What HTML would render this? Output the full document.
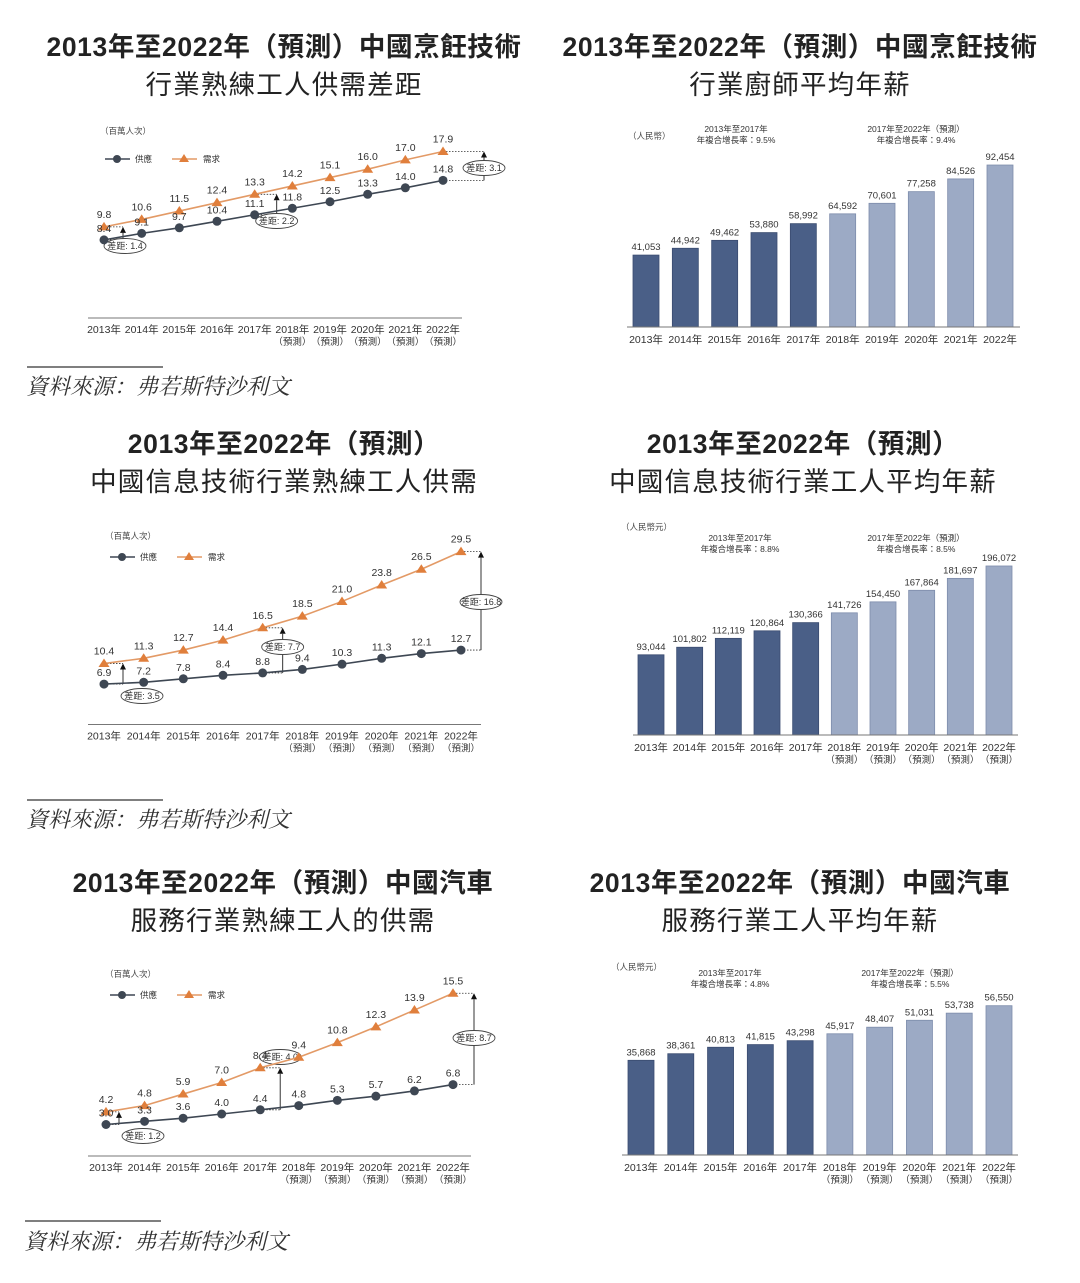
<!DOCTYPE html>
<html><head><meta charset="utf-8"><style>
html,body{margin:0;padding:0;background:#fff;}
svg{display:block;font-family:"Liberation Sans","Noto Sans CJK TC",sans-serif;}
.title{font-size:26.5px;font-weight:bold;fill:#222;text-anchor:middle;letter-spacing:0.6px;}
.title2{font-size:26.5px;fill:#222;text-anchor:middle;letter-spacing:1.2px;}
.src{font-family:"Liberation Serif","Noto Serif CJK SC",serif;font-style:italic;font-size:22px;fill:#333;}
</style></head><body>
<svg id="page" width="1080" height="1283" viewBox="0 0 1080 1283">
<g>
<text class="title" x="284" y="56">2013年至2022年（預測）中國烹飪技術</text>
<text class="title2" x="284" y="94">行業熟練工人供需差距</text>
<text class="title" x="800" y="56">2013年至2022年（預測）中國烹飪技術</text>
<text class="title2" x="800" y="94">行業廚師平均年薪</text>
<text class="title" x="284" y="453">2013年至2022年（預測）</text>
<text class="title2" x="284" y="491">中國信息技術行業熟練工人供需</text>
<text class="title" x="803" y="453">2013年至2022年（預測）</text>
<text class="title2" x="803" y="491">中國信息技術行業工人平均年薪</text>
<text class="title" x="283" y="892">2013年至2022年（預測）中國汽車</text>
<text class="title2" x="283" y="930">服務行業熟練工人的供需</text>
<text class="title" x="800" y="892">2013年至2022年（預測）中國汽車</text>
<text class="title2" x="800" y="930">服務行業工人平均年薪</text>
</g>
<g>
<line x1="27" y1="367" x2="163" y2="367" stroke="#333" stroke-width="1.2"/>
<text class="src" x="26" y="394">資料來源：弗若斯特沙利文</text>
<line x1="27" y1="800" x2="163" y2="800" stroke="#333" stroke-width="1.2"/>
<text class="src" x="26" y="827">資料來源：弗若斯特沙利文</text>
<line x1="25" y1="1221" x2="161" y2="1221" stroke="#333" stroke-width="1.2"/>
<text class="src" x="24" y="1249">資料來源：弗若斯特沙利文</text>
</g>
</svg>
<script>
const years = ["2013年","2014年","2015年","2016年","2017年","2018年","2019年","2020年","2021年","2022年"];
const forecastFlag = [0,0,0,0,0,1,1,1,1,1];
const cookSupply = [8.4,9.1,9.7,10.4,11.1,11.8,12.5,13.3,14.0,14.8];
const cookDemand = [9.8,10.6,11.5,12.4,13.3,14.2,15.1,16.0,17.0,17.9];
const itSupply = [6.9,7.2,7.8,8.4,8.8,9.4,10.3,11.3,12.1,12.7];
const itDemand = [10.4,11.3,12.7,14.4,16.5,18.5,21.0,23.8,26.5,29.5];
const autoSupply = [3.0,3.3,3.6,4.0,4.4,4.8,5.3,5.7,6.2,6.8];
const autoDemand = [4.2,4.8,5.9,7.0,8.4,9.4,10.8,12.3,13.9,15.5];
const cookSalary = [41053,44942,49462,53880,58992,64592,70601,77258,84526,92454];
const itSalary = [93044,101802,112119,120864,130366,141726,154450,167864,181697,196072];
const autoSalary = [35868,38361,40813,41815,43298,45917,48407,51031,53738,56550];
const gapYears = [0,4,9];

const NS="http://www.w3.org/2000/svg";
const svg=document.getElementById('page');
function mk(tag,attrs,parent,text){const e=document.createElementNS(NS,tag);for(const k in attrs)e.setAttribute(k,attrs[k]);if(text!==undefined)e.textContent=text;(parent||svg).appendChild(e);return e;}
function fmt(v){return v.toLocaleString('en-US');}

function xLabels(g,xs,y,showForecast){
  years.forEach((yr,i)=>{
    const t=mk('text',{x:xs(i),y:y,'font-size':10.5,'text-anchor':'middle',fill:'#333'},g,yr);
    
    
    if(showForecast&&forecastFlag[i]){
      const f=mk('text',{x:xs(i),y:y+12,'font-size':9.5,'text-anchor':'middle',fill:'#333'},g,'（預測）');
      
      
    }
  });
}

function lineChart(c){
  const g=mk('g',{},svg);
  
  
  const xs=i=>c.x0+i*(c.x1-c.x0)/(years.length-1);
  const ys=v=>c.base-v*c.k;
  mk('line',{x1:c.ax0,y1:c.base,x2:c.ax1,y2:c.base,stroke:'#777','stroke-width':1},g);
  xLabels(g,xs,c.base+15,true);
  const u=mk('text',{x:c.ux,y:c.uy,'font-size':8.5,fill:'#444'},g,'（百萬人次）');
  
  
  const lg=mk('g',{},g);
  
  
  mk('line',{x1:c.ux+5,y1:c.ly,x2:c.ux+30,y2:c.ly,stroke:'#3e4753','stroke-width':1.5},lg);
  mk('circle',{cx:c.ux+17,cy:c.ly,r:4,fill:'#3e4753'},lg);
  mk('text',{x:c.ux+35,y:c.ly+3,'font-size':8.5,fill:'#333'},lg,'供應');
  mk('line',{x1:c.ux+72,y1:c.ly,x2:c.ux+97,y2:c.ly,stroke:'#e39a66','stroke-width':1.5},lg);
  mk('path',{d:`M${c.ux+84},${c.ly-5}l5,8h-10z`,fill:'#e07f3c'},lg);
  mk('text',{x:c.ux+103,y:c.ly+3,'font-size':8.5,fill:'#333'},lg,'需求');
  gapYears.forEach((i,j)=>{
    const ax=xs(i)+c.gapDx[j], yd=ys(c.demand[i]), ysup=ys(c.supply[i]);
    const ga=mk('g',{},g);
    
    
    mk('line',{x1:xs(i),y1:yd,x2:ax,y2:yd,stroke:'#333','stroke-width':0.8,'stroke-dasharray':'1.5,1.5'},ga);
    mk('line',{x1:xs(i),y1:ysup,x2:ax,y2:ysup,stroke:'#333','stroke-width':0.8,'stroke-dasharray':'1.5,1.5'},ga);
    mk('line',{x1:ax,y1:ysup,x2:ax,y2:yd+6,stroke:'#333','stroke-width':1},ga);
    mk('path',{d:`M${ax},${yd}l-3,6h6z`,fill:'#111'},ga);
    const ex=ax+c.ellDx[j], ey=c.ellY[j];
    mk('ellipse',{cx:ex,cy:ey,rx:21,ry:7.5,fill:'#fff',stroke:'#444','stroke-width':0.9},ga);
    mk('text',{x:ex,y:ey+3,'font-size':9,'text-anchor':'middle',fill:'#333'},ga,'差距: '+(c.demand[i]-c.supply[i]).toFixed(1));
  });
  const sp=c.supply.map((v,i)=>xs(i)+','+ys(v)).join(' ');
  const dp=c.demand.map((v,i)=>xs(i)+','+ys(v)).join(' ');
  const dl=mk('polyline',{points:dp,fill:'none',stroke:'#e39a66','stroke-width':1.6},g);
  
  
  const sl=mk('polyline',{points:sp,fill:'none',stroke:'#3e4753','stroke-width':1.6},g);
  
  
  c.demand.forEach((v,i)=>{
    const m=mk('path',{d:`M${xs(i)},${ys(v)-5}l5.5,8.5h-11z`,fill:'#e07f3c'},g);
    
    
    mk('text',{x:xs(i),y:ys(v)-9,'font-size':10.5,'text-anchor':'middle',fill:'#333'},g,v.toFixed(1));
  });
  c.supply.forEach((v,i)=>{
    const m=mk('circle',{cx:xs(i),cy:ys(v),r:4.5,fill:'#3e4753'},g);
    
    
    mk('text',{x:xs(i),y:ys(v)-8,'font-size':10.5,'text-anchor':'middle',fill:'#333'},g,v.toFixed(1));
  });
}

function barChart(c){
  const g=mk('g',{},svg);
  
  
  const xs=i=>c.x0+i*(c.x1-c.x0)/(years.length-1);
  const ys=v=>c.base-v*c.k;
  c.vals.forEach((v,i)=>{
    const b=mk('rect',{x:xs(i)-13,y:ys(v),width:26,height:c.base-ys(v),fill:i<5?'#4a5f87':'#9caac5',stroke:i<5?'#3a4c70':'#7d8cab','stroke-width':0.8},g);
    
    
    mk('text',{x:xs(i),y:ys(v)-5,'font-size':9.5,'text-anchor':'middle',fill:'#333'},g,fmt(v));
  });
  mk('line',{x1:c.ax0,y1:c.base,x2:c.ax1,y2:c.base,stroke:'#777','stroke-width':1},g);
  xLabels(g,xs,c.base+16,c.fc);
  const u=mk('text',{x:c.ux,y:c.uy,'font-size':8.5,fill:'#444'},g,c.unit);
  
  
  c.cagr.forEach((t,j)=>{
    const a=mk('text',{x:t[0],y:t[1],'font-size':8.5,'text-anchor':'middle',fill:'#333'},g,t[2]);
    
    
    mk('text',{x:t[0],y:t[1]+11,'font-size':8.5,'text-anchor':'middle',fill:'#333'},g,t[3]);
  });
}

lineChart({name:'cooking-supply-demand-chart',supply:cookSupply,demand:cookDemand,x0:104,x1:443,base:318,k:9.3,ax0:88,ax1:462,ux:100,uy:134,ly:159,gapDx:[19,22,41],ellDx:[2,0,0],ellY:[246,221,168]});
lineChart({name:'it-supply-demand-chart',supply:itSupply,demand:itDemand,x0:104,x1:461,base:724.5,k:5.86,ax0:88,ax1:481,ux:105,uy:539,ly:557,gapDx:[19,20,20],ellDx:[19,0,0],ellY:[696,647,602]});
lineChart({name:'auto-supply-demand-chart',supply:autoSupply,demand:autoDemand,x0:106,x1:453,base:1156,k:10.5,ax0:88,ax1:471,ux:105,uy:977,ly:995,gapDx:[13,20,21],ellDx:[24,0,0],ellY:[1136,1057,1038]});

barChart({name:'cooking-salary-chart',vals:cookSalary,x0:646,x1:1000,base:327,k:0.001752,ax0:627,ax1:1020,ux:628,uy:139,unit:'（人民幣）',fc:false,
  cagr:[[736,132,'2013年至2017年','年複合增長率：9.5%'],[916,132,'2017年至2022年（預測）','年複合增長率：9.4%']]});
barChart({name:'it-salary-chart',vals:itSalary,x0:651,x1:999,base:735,k:0.000862,ax0:633,ax1:1018,ux:621,uy:530,unit:'（人民幣元）',fc:true,
  cagr:[[740,541,'2013年至2017年','年複合增長率：8.8%'],[916,541,'2017年至2022年（預測）','年複合增長率：8.5%']]});
barChart({name:'auto-salary-chart',vals:autoSalary,x0:641,x1:999,base:1155,k:0.00264,ax0:622,ax1:1018,ux:611,uy:970,unit:'（人民幣元）',fc:true,
  cagr:[[730,976,'2013年至2017年','年複合增長率：4.8%'],[910,976,'2017年至2022年（預測）','年複合增長率：5.5%']]});
</script>
</body></html>
